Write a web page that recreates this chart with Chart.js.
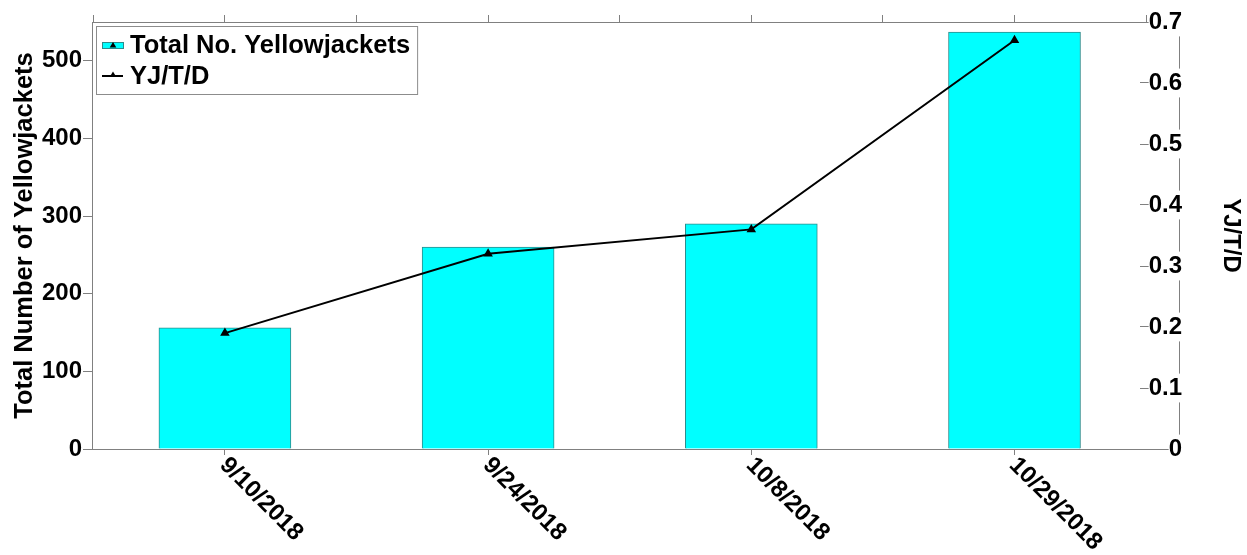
<!DOCTYPE html>
<html>
<head>
<meta charset="utf-8">
<script src="https://cdn.jsdelivr.net/npm/chart.js@4.4.0/dist/chart.umd.min.js"></script>
<style>
  html, body { margin: 0; padding: 0; background: #fff; }
  #wrap { width: 1247px; height: 555px; }
</style>
</head>
<body>
<div id="wrap"><canvas id="chart" width="1247" height="555"></canvas></div>
<script>
// Dati
const dateLabels = ['9/10/2018', '9/24/2018', '10/8/2018', '10/29/2018'];
const totalYellowjackets = [156, 260, 290, 537];
const yjPerTrapPerDay = [0.19, 0.32, 0.36, 0.67];
const leftTicks = [0, 100, 200, 300, 400, 500];
const rightTicks = [0, 0.1, 0.2, 0.3, 0.4, 0.5, 0.6, 0.7];
const topTicks = [-0.5, 0, 0.5, 1, 1.5, 2, 2.5, 3, 3.5];

const FAMILY = '"Liberation Sans", Arial, sans-serif';
const AXIS_GRAY = '#808080';
const BAR_FILL = '#00ffff';
const BAR_EDGE = '#2e8b8b';

// Disegna un triangolo pieno (marker)
function triangle(ctx, x, y, r) {
    ctx.beginPath();
    ctx.moveTo(x, y - r);
    ctx.lineTo(x + r * 0.95, y + r * 0.6);
    ctx.lineTo(x - r * 0.95, y + r * 0.6);
    ctx.closePath();
    ctx.fill();
}

// Legenda dentro l'area del grafico, con bordo
const legendBox = {
    id: 'legendBox',
    afterDraw(chart) {
        const ctx = chart.ctx;
        const area = chart.chartArea;
        const left = area.left + 4;
        const top = area.top + 4;
        const sets = chart.data.datasets;
        ctx.save();
        ctx.font = 'bold 25.5px ' + FAMILY;
        const textW = Math.max(...sets.map(d => ctx.measureText(d.label).width));
        const w = 34 + textW + 7;
        const h = 68;
        ctx.fillStyle = '#fff';
        ctx.fillRect(left, top, w, h);
        ctx.strokeStyle = '#8c8c8c';
        ctx.lineWidth = 1;
        ctx.strokeRect(left + 0.5, top + 0.5, w, h);

        // riga 1: barre
        ctx.fillStyle = BAR_FILL;
        ctx.fillRect(left + 6, top + 16, 21, 6);
        ctx.strokeStyle = BAR_EDGE;
        ctx.strokeRect(left + 6.5, top + 16.5, 21, 6);
        ctx.fillStyle = '#000';
        triangle(ctx, left + 17, top + 19.5, 3.5);

        // riga 2: linea
        ctx.strokeStyle = '#000';
        ctx.lineWidth = 2;
        ctx.beginPath();
        ctx.moveTo(left + 6, top + 50);
        ctx.lineTo(left + 27, top + 50);
        ctx.stroke();
        triangle(ctx, left + 17, top + 49, 3.5);

        ctx.fillStyle = '#000';
        ctx.textAlign = 'left';
        ctx.textBaseline = 'alphabetic';
        ctx.fillText(sets[0].label, left + 34, top + 27);
        ctx.fillText(sets[1].label, left + 34, top + 58);
        ctx.restore();
    }
};

// Etichette delle date inclinate verso il basso a destra
const slantedLabels = {
    id: 'slantedLabels',
    afterDraw(chart) {
        const scale = chart.scales.x;
        const ctx = chart.ctx;
        ctx.save();
        ctx.font = 'bold 24px ' + FAMILY;
        ctx.fillStyle = '#000';
        ctx.textAlign = 'left';
        ctx.textBaseline = 'top';
        dateLabels.forEach((lab, i) => {
            const x = scale.getPixelForValue(i);
            ctx.save();
            ctx.translate(x + 7, scale.top + 4);
            ctx.rotate(Math.PI / 4);
            ctx.fillText(lab, 0, 0);
            ctx.restore();
        });
        ctx.restore();
    }
};

const tickFont = { family: FAMILY, size: 24, weight: 'bold' };
const titleFont = { family: FAMILY, size: 25.5, weight: 'bold' };

new Chart(document.getElementById('chart'), {
    type: 'bar',
    data: {
        datasets: [
            {
                type: 'bar',
                label: 'Total No. Yellowjackets',
                data: totalYellowjackets.map((v, i) => ({ x: i, y: v })),
                backgroundColor: BAR_FILL,
                borderColor: BAR_EDGE,
                borderWidth: 1,
                barThickness: 132,
                xAxisID: 'x',
                yAxisID: 'y',
                order: 2
            },
            {
                type: 'line',
                label: 'YJ/T/D',
                data: yjPerTrapPerDay.map((v, i) => ({ x: i, y: v })),
                borderColor: '#000',
                borderWidth: 2,
                pointStyle: 'triangle',
                pointRadius: 3.5,
                pointBackgroundColor: '#000',
                pointBorderColor: '#000',
                tension: 0,
                fill: false,
                xAxisID: 'x',
                yAxisID: 'y2',
                order: 1
            }
        ]
    },
    options: {
        responsive: false,
        animation: false,
        devicePixelRatio: 1,
        layout: { padding: 0 },
        plugins: {
            legend: { display: false },
            tooltip: { enabled: false }
        },
        scales: {
            x: {
                type: 'linear',
                position: 'bottom',
                offset: false,
                min: -0.505,
                max: 3.625,
                afterBuildTicks: s => { s.ticks = dateLabels.map((d, i) => ({ value: i })); },
                ticks: { display: false },
                grid: { drawOnChartArea: false, offset: false, tickLength: 6, color: AXIS_GRAY },
                border: { color: AXIS_GRAY, width: 1 },
                afterFit: s => { s.height = 106; }
            },
            xTop: {
                type: 'linear',
                axis: 'x',
                position: 'top',
                offset: false,
                min: -0.505,
                max: 3.625,
                afterBuildTicks: s => { s.ticks = topTicks.map(v => ({ value: v })); },
                ticks: { display: false },
                grid: { drawOnChartArea: false, offset: false, tickLength: 7, color: AXIS_GRAY },
                border: { color: AXIS_GRAY, width: 1 },
                afterFit: s => { s.height = 22; }
            },
            y: {
                type: 'linear',
                position: 'left',
                min: 0,
                max: 550,
                afterBuildTicks: s => { s.ticks = leftTicks.map(v => ({ value: v })); },
                ticks: { color: '#000', font: tickFont, padding: 1 },
                grid: { drawOnChartArea: false, tickLength: 9, color: AXIS_GRAY },
                border: { color: AXIS_GRAY, width: 1 },
                title: {
                    display: true,
                    text: 'Total Number of Yellowjackets',
                    color: '#000',
                    font: titleFont,
                    padding: { top: 10, bottom: 0 }
                },
                afterFit: s => { s.width = 92; }
            },
            y2: {
                type: 'linear',
                position: 'right',
                min: 0,
                max: 0.7,
                afterBuildTicks: s => { s.ticks = rightTicks.map(v => ({ value: v })); },
                ticks: {
                    mirror: true,
                    padding: 3,
                    color: '#000',
                    font: tickFont,
                    callback: v => (v === 0 ? '0' : v.toFixed(1)),
                    showLabelBackdrop: true,
                    backdropColor: '#fff',
                    backdropPadding: c => (c.tick && c.tick.value === 0
                        ? { left: 20, right: -4, top: 0, bottom: 0 }
                        : { left: 0, right: -4, top: 0, bottom: 0 })
                },
                grid: { drawOnChartArea: false, tickLength: -39, color: AXIS_GRAY },
                border: { color: AXIS_GRAY, width: 1 },
                title: {
                    display: true,
                    text: 'YJ/T/D',
                    color: '#000',
                    font: { family: FAMILY, size: 24, weight: 'bold' },
                    padding: { top: 2, bottom: 0 }
                },
                afterFit: s => { s.width = 68; }
            }
        }
    },
    plugins: [legendBox, slantedLabels]
});
</script>
</body>
</html>
